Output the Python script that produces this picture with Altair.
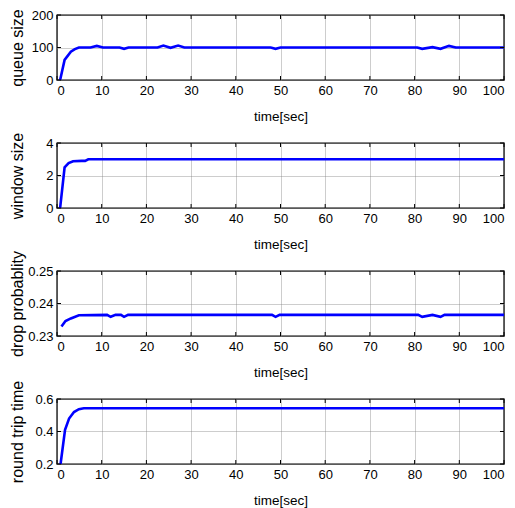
import altair as alt
import pandas as pd

# ---- data ----
x_ticks = [0, 10, 20, 30, 40, 50, 60, 70, 80, 90, 100]

t_queue = [0.7, 1.7, 3.1, 4.0, 4.9, 7.5, 8.9, 10.3, 14.0, 15.0, 16.0, 22.5, 23.8,
           25.4, 27.1, 28.5, 47.8, 48.9, 50.0, 80.6, 81.7, 84.0, 85.8, 87.7, 89.2, 100]
queue_size = [0, 62, 87, 95, 100, 100, 105, 100, 100, 96, 100, 100, 106,
              99, 106, 100, 100, 96, 100, 100, 96, 101, 96, 105, 100, 100]
queue_ticks = [0, 100, 200]

t_window = [0.7, 1.7, 2.6, 3.6, 5.5, 6.3, 7.0, 100]
window_size = [0, 2.5, 2.76, 2.88, 2.9, 2.9, 3.0, 3.0]
window_ticks = [0, 2, 4]

t_drop = [1.0, 1.9, 3.1, 4.9, 11.2, 12.0, 13.1, 14.3, 15.0, 15.9, 48.1, 48.9, 49.8,
          80.8, 81.7, 84.0, 85.8, 86.7, 100]
drop_prob = [0.2329, 0.2346, 0.2354, 0.2364, 0.2365, 0.2359, 0.2365, 0.2365, 0.2359, 0.2365,
             0.2365, 0.2359, 0.2365, 0.2365, 0.2359, 0.2365, 0.2359, 0.2365, 0.2365]
drop_ticks = [0.23, 0.24, 0.25]

t_rtt = [0.8, 1.8, 2.7, 3.8, 4.9, 6.0, 100]
rtt = [0.2, 0.41, 0.48, 0.52, 0.537, 0.543, 0.543]
rtt_ticks = [0.2, 0.4, 0.6]

W, H = 447, 65
FONT = "Liberation Sans"


def panel(t, v, ytitle, ydomain, yticks, fmt):
    df = pd.DataFrame({"t": t, "v": v})
    xs = alt.Scale(domain=[0, 100], nice=False)
    ys = alt.Scale(domain=ydomain, nice=False, zero=False)
    xaxis = alt.Axis(values=x_ticks, title="time[sec]", grid=True, ticks=False,
                     domain=False, labelPadding=4, titlePadding=12, format="d",
                     labelOverlap=False, titleFontWeight=400, titleFontSize=13.5,
                     gridColor="#808080", gridDash=[1, 1], gridWidth=0.8)
    yaxis = alt.Axis(values=yticks, title=ytitle, grid=True, ticks=False, domain=False,
                     labelPadding=4, format=fmt, titleX=-39.5, titleY=H / 2,
                     labelOverlap=False, titleFontWeight=400, titleFontSize=16,
                     titleAngle=270, titleBaseline="middle", titleAlign="center",
                     gridColor="#808080", gridDash=[1, 1], gridWidth=0.8)
    X = alt.X("t:Q", scale=xs, axis=xaxis)
    Y = alt.Y("v:Q", scale=ys, axis=yaxis)
    line = alt.Chart(df).mark_line(color="#0000ff", strokeWidth=2.6, clip=True).encode(
        x=X, y=Y)
    xt = pd.DataFrame({"t": x_ticks})
    yt = pd.DataFrame({"v": yticks})
    tick_bottom = alt.Chart(xt).mark_rule(color="black", strokeWidth=1).encode(
        x=X, y=alt.value(H), y2=alt.value(H - 4))
    tick_top = alt.Chart(xt).mark_rule(color="black", strokeWidth=1).encode(
        x=X, y=alt.value(0), y2=alt.value(4))
    tick_left = alt.Chart(yt).mark_rule(color="black", strokeWidth=1).encode(
        y=Y, x=alt.value(0), x2=alt.value(4))
    tick_right = alt.Chart(yt).mark_rule(color="black", strokeWidth=1).encode(
        y=Y, x=alt.value(W), x2=alt.value(W - 4))
    return alt.layer(line, tick_bottom, tick_top, tick_left, tick_right).properties(
        width=W, height=H)


panels = [
    panel(t_queue, queue_size, "queue size", [0, 200], queue_ticks, "d"),
    panel(t_window, window_size, "window size", [0, 4], window_ticks, "d"),
    panel(t_drop, drop_prob, "drop probablity", [0.23, 0.25], drop_ticks, ".2f"),
    panel(t_rtt, rtt, "round trip time", [0.2, 0.6], rtt_ticks, ".1f"),
]

chart = alt.vconcat(*panels, spacing=63, bounds="flush").properties(
    padding={"left": 0, "top": 0, "right": 0, "bottom": 0}
).configure(
    background="white"
).configure_view(
    stroke="black", strokeWidth=1.4
).configure_axis(
    labelFont=FONT, titleFont=FONT, labelFontSize=13,
    labelColor="black", titleColor="black"
)

chart.save("out.html", embed_options={"renderer": "svg", "actions": False})
